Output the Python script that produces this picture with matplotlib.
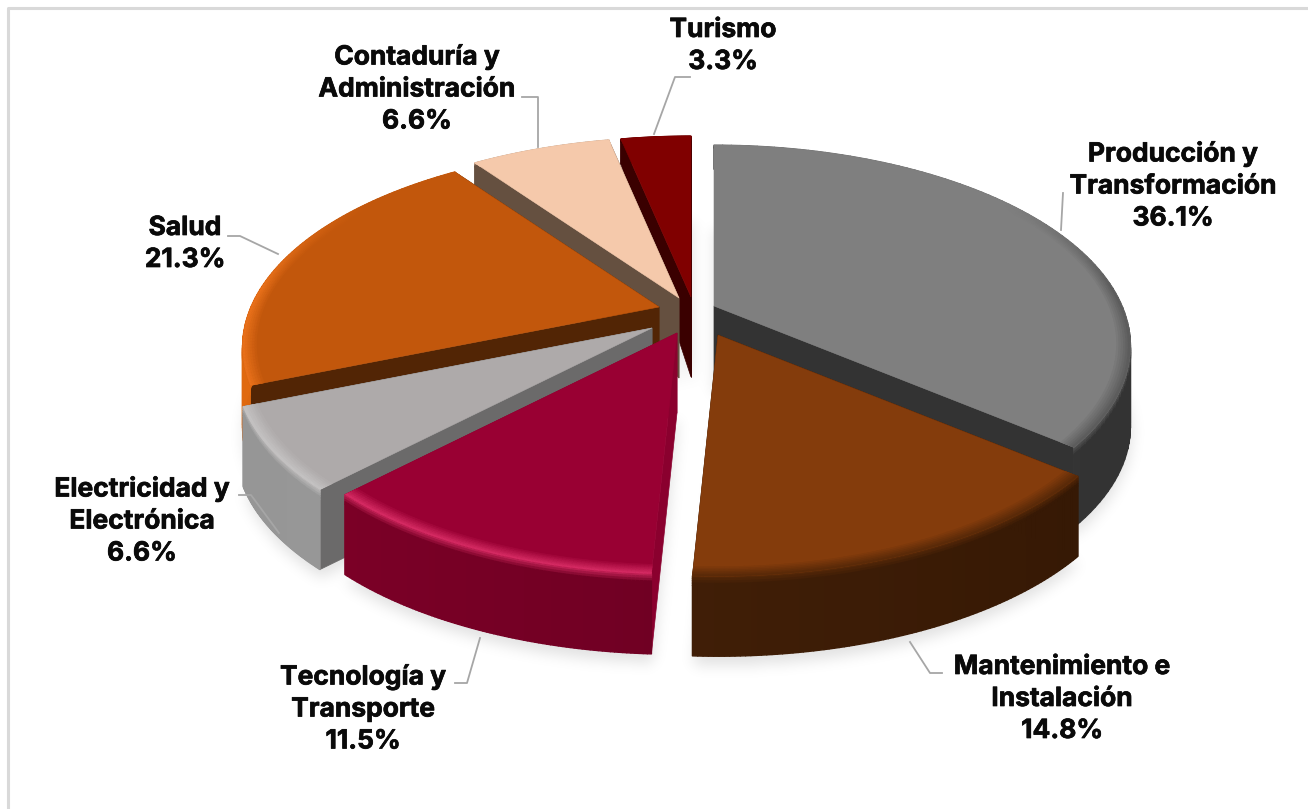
import numpy as np
import matplotlib
matplotlib.use("Agg")
import matplotlib.pyplot as plt
import matplotlib.patheffects as pe
from matplotlib.collections import PolyCollection
from matplotlib.patches import Polygon
from matplotlib.path import Path
from matplotlib.colors import to_rgb

categories = ["Producción y\nTransformación", "Mantenimiento e\nInstalación",
              "Tecnología y\nTransporte", "Electricidad y\nElectrónica",
              "Salud", "Contaduría y\nAdministración", "Turismo"]
values = [36.1, 14.8, 11.5, 6.6, 21.3, 6.6, 3.3]

top_colors = ["#7f7f7f", "#843c0c", "#990033", "#aeaaaa", "#c2570c", "#f5c9ab", "#800000"]
wall_colors = ["#333333", "#351804", "#8a002e", "#6b6a6a", "#522505", "#655040", "#3a0000"]
rim_start = ["#333333", "#331704", "#5f001e", "#a3a3a3", "#6d3208", "#655040", "#3a0000"]
rim_end = ["#383838", "#4c2509", "#800028", "#959595", "#e0690f", "#655040", "#3a0000"]
bevel_colors = ["#5c5c5c", "#5a2a08", "#d42a62", "#c4c2c2", "#e8701a", "#f5c9ab", "#800000"]

# apex of each pulled-out slice, screen pixels
apex_x = [714, 718, 677, 652, 659, 679, 691]
apex_y = [306, 335, 333, 328, 307, 298, 297]
draw_order = [6, 5, 0, 4, 3, 1, 2]

label_pos = [(1173, 186), (1062, 699), (363, 709), (142, 521), (185, 244), (417, 89), (723, 46)]
leaders = [[(1061, 230), (1063, 193)],
           [(910, 642), (930, 673), (942, 673)],
           [(480, 638), (467, 683), (455, 683)],
           [(279, 533), (251, 495), (239, 495)],
           [(278, 254), (240, 236), (228, 236)],
           [(538, 147), (538, 97), (522, 97)],
           [(654, 134), (675, 77), (690, 77)]]

RX, RY, K = 408, 193, 0.2
DEPTH = 80


def project(i, t, r=1.0, z=0.0, flat=False):
    u, v = r * np.sin(t), r * np.cos(t)
    s = 1 / (1 + K * v)
    # the wall gets much thinner towards the back of the pie
    d = DEPTH * s ** 0.15 if flat else DEPTH * (1 - 0.7 * np.maximum(v, 0))
    return np.column_stack([apex_x[i] + RX * u * s, apex_y[i] - RY * v * s + d * z])


def blend(c1, c2, f):
    return np.array(to_rgb(c1)) * (1 - f) + np.array(to_rgb(c2)) * f


fig = plt.figure(figsize=(13.08, 8.09), dpi=100)
ax = fig.add_axes([0, 0, 1, 1])
ax.axis("off")

edges = np.concatenate([[0], np.cumsum(values)]) / sum(values) * 2 * np.pi
angles = [np.linspace(edges[i], edges[i + 1], 90) for i in range(len(values))]

# soft shadow under the pie
yy, xx = np.mgrid[0:809:2, 0:1308:2]
pts = np.column_stack([xx.ravel(), yy.ravel()])
mask = np.zeros(xx.shape)
for i, t in enumerate(angles):
    poly = Path(np.vstack([[apex_x[i], apex_y[i] + DEPTH], project(i, t, z=1.0, flat=True)]) + [0, 6])
    mask = np.maximum(mask, poly.contains_points(pts).reshape(xx.shape) * 1.0)
kernel = np.exp(-np.arange(-12, 13) ** 2 / (2 * 3.5 ** 2))
kernel /= kernel.sum()
mask = np.apply_along_axis(lambda c: np.convolve(c, kernel, mode="same"), 0, mask)
mask = np.apply_along_axis(lambda c: np.convolve(c, kernel, mode="same"), 1, mask)
shadow = np.zeros(mask.shape + (4,))
shadow[..., 3] = mask * 0.12
ax.imshow(shadow, extent=(0, 1308, 809, 0), aspect="auto", interpolation="bilinear", zorder=1)
ax.set_xlim(0, 1308)
ax.set_ylim(809, 0)

# frame of the chart area
ax.plot([8, 8, 1308], [809, 8, 8], color="#d9d9d9", lw=2.2, zorder=1)

# slices back to front: side walls, rim, top
zo = 2
for i in draw_order:
    t = angles[i]
    a_top = np.array([[apex_x[i], apex_y[i]]])
    a_bot = a_top + [0, DEPTH]
    top = project(i, t)
    bot = project(i, t, z=1.0)
    for end in (0, -1):
        wall = np.vstack([a_top, top[end], bot[end], a_bot])
        ax.add_patch(Polygon(wall, closed=True, fc=wall_colors[i], ec=wall_colors[i], lw=0.5, zorder=zo))

    quads, cols = [], []
    front = np.clip((0.6 - np.cos(t)) / 0.5, 0, 1)
    zs = [0, 0.03, 0.06, 0.09, 0.12, 1.0]
    for j in range(len(t) - 1):
        # rim colour runs from right to left across the screen
        base = blend(rim_start[i], rim_end[i], (1 - np.sin(t[j])) / 2)
        edge = blend(top_colors[i], bevel_colors[i], front[j])
        for a, b in zip(zs[:-1], zs[1:]):
            seg = np.vstack([project(i, t[j:j + 2], z=a), project(i, t[j:j + 2], z=b)[::-1]])
            quads.append(seg)
            cols.append(edge * (1 - min(b / 0.12, 1)) + base * min(b / 0.12, 1))
    ax.add_collection(PolyCollection(quads, facecolors=cols, edgecolors="face", linewidths=1.0, zorder=zo))

    ax.add_patch(Polygon(np.vstack([a_top, top]), closed=True, fc=top_colors[i], ec=top_colors[i], lw=0.4, zorder=zo))

    # soft bevel along the outer edge of the top
    quads, cols = [], []
    rs = np.linspace(0.968, 1.0, 7)
    for j in range(len(t) - 1):
        for k in range(6):
            seg = np.vstack([project(i, t[j:j + 2], r=rs[k]), project(i, t[j:j + 2], r=rs[k + 1])[::-1]])
            quads.append(seg)
            cols.append(blend(top_colors[i], bevel_colors[i], front[j] * (k + 1) / 6))
    ax.add_collection(PolyCollection(quads, facecolors=cols, edgecolors="face", linewidths=0.4, zorder=zo))
    zo += 1

for line in leaders:
    xs, ys = zip(*line)
    ax.plot(xs, ys, color="#a6a6a6", lw=1.3, zorder=20)

for name, val, (x, y) in zip(categories, values, label_pos):
    ax.text(x, y, f"{name}\n{val:.1f}%", ha="center", va="center", fontsize=19,
            fontweight="bold", family=["Inter", "DejaVu Sans"], color="#0a0a0a",
            linespacing=1.3, zorder=21,
            path_effects=[pe.withStroke(linewidth=0.5, foreground="#0a0a0a")])

fig.savefig("out.png", dpi=100)
